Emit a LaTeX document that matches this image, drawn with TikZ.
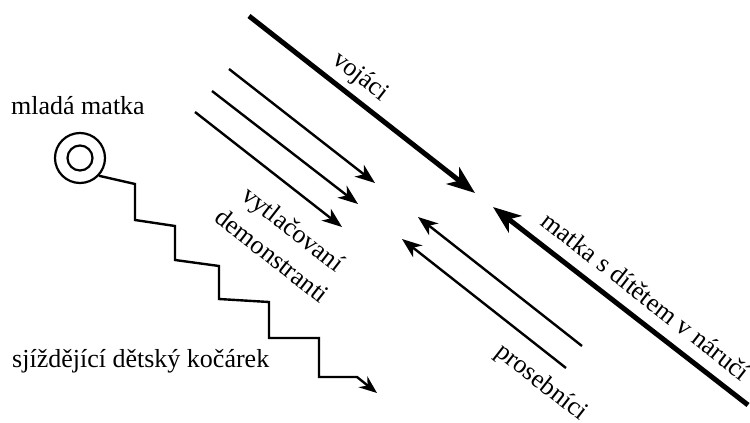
\documentclass[tikz,border=0pt]{standalone}
\usepackage{fontspec}
\setmainfont{Liberation Serif}
\usetikzlibrary{arrows.meta}
\begin{document}
\begin{tikzpicture}[x=1pt,y=-1pt,
  lbl/.style={font=\fontsize{26}{34}\selectfont, inner sep=0pt},
  rlbl/.style={lbl, rotate=-38, align=center},
  thinarrow/.style={line width=2.4pt,-{Stealth[length=20pt,width=15pt,inset=6pt]}},
  thickarrow/.style={line width=5pt,-{Stealth[length=28pt,width=21pt,inset=8pt]}},
  ring/.style={circle,draw,line width=2.2pt,inner sep=0pt},
  zig/.style={line width=2.4pt,line join=miter,-{Stealth[length=18pt,width=14pt,inset=6pt]}}]
\useasboundingbox (0,0) rectangle (750,423);

% soldiers
\coordinate (s0) at (249,16);
\coordinate (s1) at (475,193);
\draw[thickarrow] (s0) -- (s1);
\node[rlbl] (vojaci) at (360,77) {vojáci};

% pushed demonstrators
\coordinate (d1a) at (229,69);  \coordinate (d1b) at (375,183);
\coordinate (d2a) at (212,91);  \coordinate (d2b) at (358,204);
\coordinate (d3a) at (195,112); \coordinate (d3b) at (342,227);
\draw[thinarrow] (d1a) -- (d1b);
\draw[thinarrow] (d2a) -- (d2b);
\draw[thinarrow] (d3a) -- (d3b);
\node[rlbl] (demo) at (283,242) {vytlačovaní\\demonstranti};

% mother with child
\coordinate (m0) at (748,405);
\coordinate (m1) at (493,207);
\draw[thickarrow] (m0) -- (m1);
\node[rlbl] (matka) at (646,296) {matka s dítětem v náručí};

% pleaders
\coordinate (p1a) at (582,346); \coordinate (p1b) at (418,217);
\coordinate (p2a) at (566,368); \coordinate (p2b) at (402,239);
\draw[thinarrow] (p1a) -- (p1b);
\draw[thinarrow] (p2a) -- (p2b);
\node[rlbl] (prosebnici) at (541,383) {prosebníci};

% young mother
\node[lbl, anchor=base west] (mlada) at (11,114) {mladá matka};
\node[ring, minimum size=50pt] (ringout) at (80,158) {};
\node[ring, minimum size=25pt] (ringin) at (80,158) {};

% pram
\node[lbl, anchor=base west] (pram) at (12,367) {sjíždějící dětský kočárek};
\coordinate (z1) at (135,184);
\coordinate (z2) at (135,220);
\coordinate (z3) at (175,226);
\coordinate (z4) at (175,260);
\coordinate (z5) at (219,266);
\coordinate (z6) at (219,299);
\coordinate (z7) at (269,302);
\coordinate (z8) at (269,338);
\coordinate (z9) at (319,338);
\coordinate (z10) at (319,377);
\coordinate (z11) at (357,377);
\coordinate (z12) at (377,393);
\draw[zig] (ringout.-43) -- (z1) -- (z2) -- (z3) -- (z4) -- (z5) -- (z6) -- (z7) -- (z8) -- (z9) -- (z10) -- (z11) -- (z12);
\end{tikzpicture}
\end{document}
